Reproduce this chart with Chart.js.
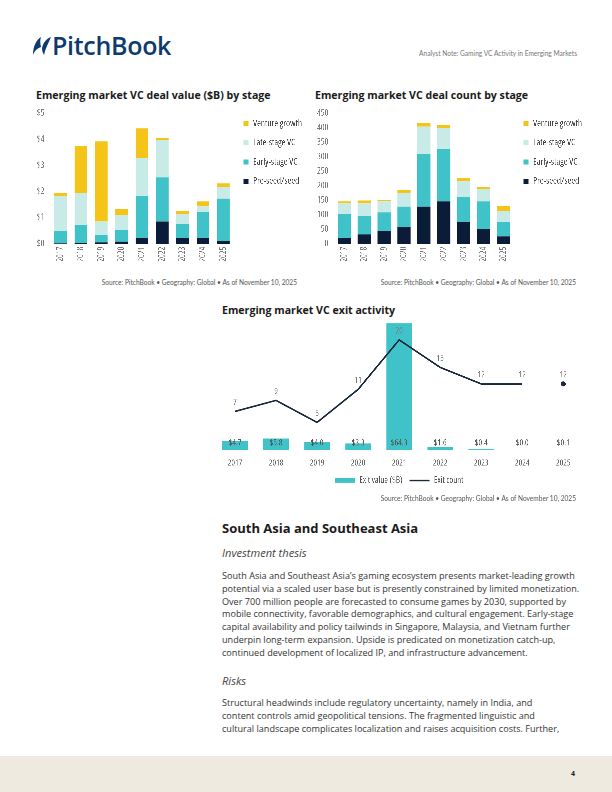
<!DOCTYPE html>
<html>
<head>
<meta charset="utf-8">
<script src="https://cdn.jsdelivr.net/npm/chart.js@4.4.1/dist/chart.umd.min.js"></script>
<style>
  html, body { margin: 0; padding: 0; }
  body { width: 612px; height: 792px; position: relative; overflow: hidden; background: #fff; font-family: 'Open Sans', sans-serif; color: #333; }
  .abs { position: absolute; white-space: nowrap; }
  .title { font-weight: 700; font-size: 10.6px; color: #1a1a1a; line-height: 14px; }
  .src { font-family: Lato, sans-serif; font-size: 6.6px; color: #555; line-height: 9px; text-align: right; }
  .body { font-size: 9.1px; line-height: 12.8px; color: #333; }
  .sub { font-style: italic; font-size: 11.1px; color: #444; line-height: 14px; }
  canvas { position: absolute; }
</style>
</head>
<body>

<!-- header -->
<svg class="abs" style="left:32px;top:36px" width="20" height="20" viewBox="0 0 20 20">
  <path d="M9 1 C4 4 1 11 1 19 C3 14 6 12 9 11 C8 7 8 4 9 1 Z" fill="#0E3A6D"/>
  <path d="M19 1 C14 3 11 7 10 12 C10 15 11 17 12 19 C13 13 16 8 19 1 Z" fill="#0E3A6D"/>
</svg>
<div class="abs" style="left:52px;top:29px;font-size:25px;font-weight:600;color:#0E3A6D;line-height:32px;letter-spacing:-0.3px">PitchBook</div>
<div class="abs" style="right:35px;top:49px;font-family:Lato,sans-serif;font-size:6.6px;color:#777;line-height:9px">Analyst Note: Gaming VC Activity in Emerging Markets</div>

<!-- chart titles -->
<div class="abs title" style="left:36px;top:88px">Emerging market VC deal value ($B) by stage</div>
<div class="abs title" style="left:315px;top:88px">Emerging market VC deal count by stage</div>

<canvas id="valueChart" width="290" height="173.5" style="left:25px;top:101.5px;width:290px;height:173.5px"></canvas>
<canvas id="countChart" width="290" height="173.5" style="left:305px;top:101.5px;width:290px;height:173.5px"></canvas>

<div class="abs src" style="right:315px;top:278px">Source: PitchBook • Geography: Global • As of November 10, 2025</div>
<div class="abs src" style="right:36px;top:278px">Source: PitchBook • Geography: Global • As of November 10, 2025</div>

<div class="abs title" style="left:222px;top:303px">Emerging market VC exit activity</div>
<canvas id="exitChart" width="380" height="176.5" style="left:210px;top:318px;width:380px;height:176.5px"></canvas>
<div class="abs src" style="right:36px;top:494px">Source: PitchBook • Geography: Global • As of November 10, 2025</div>

<!-- text -->
<div class="abs" style="left:222px;top:519px;font-size:13px;font-weight:700;color:#1a1a1a;line-height:18px">South Asia and Southeast Asia</div>
<div class="abs sub" style="left:222px;top:546px">Investment thesis</div>
<div class="abs body" style="left:222px;top:570px">
South Asia and Southeast Asia’s gaming ecosystem presents market-leading growth<br>
potential via a scaled user base but is presently constrained by limited monetization.<br>
Over 700 million people are forecasted to consume games by 2030, supported by<br>
mobile connectivity, favorable demographics, and cultural engagement. Early-stage<br>
capital availability and policy tailwinds in Singapore, Malaysia, and Vietnam further<br>
underpin long-term expansion. Upside is predicated on monetization catch-up,<br>
continued development of localized IP, and infrastructure advancement.
</div>
<div class="abs sub" style="left:222px;top:674px">Risks</div>
<div class="abs body" style="left:222px;top:697px">
Structural headwinds include regulatory uncertainty, namely in India, and<br>
content controls amid geopolitical tensions. The fragmented linguistic and<br>
cultural landscape complicates localization and raises acquisition costs. Further,
</div>

<!-- footer -->
<div class="abs" style="left:0;top:756px;width:612px;height:36px;background:#EEEAE0"></div>
<div class="abs" style="left:571px;top:769px;font-size:7px;font-weight:700;color:#222;line-height:10px">4</div>

<script>
'use strict';

const years = ['2017', '2018', '2019', '2020', '2021', '2022', '2023', '2024', '2025'];
const stageNames = ['Pre-seed/seed', 'Early-stage VC', 'Late-stage VC', 'Venture growth'];

// deal value ($B)
const valueSeed   = [0.01, 0.04, 0.05, 0.08, 0.23, 0.85, 0.23, 0.23, 0.11];
const valueEarly  = [0.48, 0.67, 0.28, 0.44, 1.60, 1.69, 0.53, 0.99, 1.62];
const valueLate   = [1.34, 1.24, 0.52, 0.57, 1.46, 1.44, 0.39, 0.21, 0.43];
const valueGrowth = [0.12, 1.79, 3.07, 0.23, 1.13, 0.08, 0.09, 0.19, 0.15];

// deal count
const countSeed   = [19, 32, 43, 57, 128, 146, 74, 50, 25];
const countEarly  = [83, 63, 65, 71, 181, 180, 88, 96, 49];
const countLate   = [37, 44, 38, 48, 95, 72, 54, 42, 39];
const countGrowth = [7, 10, 6, 8, 12, 12, 10, 8, 17];

// exits
const exitValue = [4.7, 5.8, 4.0, 3.3, 64.3, 1.6, 0.4, 0.0, 0.1];
const exitCount = [7, 9, 5, 11, 20, 15, 12, 12, 12];

const C = { seed: '#0B1C38', early: '#40C2C9', late: '#C8EBE8', growth: '#F4C518', navy: '#1A2940' };
const CHART_FONT = "'Open Sans', sans-serif";
const STRETCH = 'condensed';

Chart.defaults.font.family = CHART_FONT;
Chart.defaults.font.weight = STRETCH; // goes into the font shorthand before the size
Chart.defaults.font.size = 8.8;
Chart.defaults.color = '#777';
Chart.defaults.animation = false;
Chart.defaults.devicePixelRatio = 3;

const el = (id) => document.getElementById(id);
const noGrid = { display: false, drawTicks: false };

// widen the legend clip box after layout so the last glyph is not cut
const legendRoom = {
    id: 'legendRoom',
    beforeDraw(chart) {
        const l = chart.legend;
        if (l) l.right = chart.width;
    }
};

function stackedChart(id, series, yOpts, axisW, barPct, padRight) {
    const colors = [C.seed, C.early, C.late, C.growth];
    return new Chart(el(id), {
        type: 'bar',
        data: {
            labels: years,
            datasets: series.map((d, i) => ({
                label: stageNames[i],
                data: d,
                backgroundColor: colors[i],
                borderWidth: 0,
                barPercentage: barPct,
                categoryPercentage: 1
            }))
        },
        options: {
            responsive: false,
            layout: { padding: { top: 7, right: padRight, bottom: 0, left: 0 } },
            plugins: {
                tooltip: { enabled: false },
                legend: {
                    position: 'right',
                    align: 'start',
                    reverse: true,
                    labels: { boxWidth: 5, boxHeight: 5, padding: 10, color: '#444', font: { size: 9.2 } }
                }
            },
            scales: {
                x: {
                    stacked: true,
                    grid: noGrid,
                    border: { display: false },
                    ticks: { minRotation: 90, maxRotation: 90, padding: 3, color: '#777' },
                    afterFit: s => { s.height = 31.3; }
                },
                y: Object.assign({
                    stacked: true,
                    min: 0,
                    grid: noGrid,
                    border: { display: false },
                    afterFit: s => { s.width = axisW; }
                }, yOpts)
            }
        },
        plugins: [legendRoom]
    });
}

stackedChart('valueChart', [valueSeed, valueEarly, valueLate, valueGrowth], {
    max: 5,
    ticks: { stepSize: 1, padding: 6, color: '#777', callback: v => '$' + v }
}, 25.4, 0.62, 12);

stackedChart('countChart', [countSeed, countEarly, countLate, countGrowth], {
    max: 450,
    ticks: { stepSize: 50, padding: 6, color: '#777' }
}, 29.3, 0.66, 12);

// labels on the exit chart
const exitLabels = {
    id: 'exitLabels',
    afterDatasetsDraw(chart) {
        const ctx = chart.ctx;
        const base = chart.scales.y.getPixelForValue(0);
        ctx.save();
        ctx.font = STRETCH + ' 8.6px ' + CHART_FONT;
        ctx.textAlign = 'center';
        ctx.textBaseline = 'middle';
        ctx.fillStyle = '#555';
        chart.getDatasetMeta(0).data.forEach((b, i) => {
            ctx.fillText('$' + exitValue[i].toFixed(1), b.x, base - 7);
        });
        ctx.fillStyle = '#777';
        chart.getDatasetMeta(1).data.forEach((p, i) => {
            ctx.fillText(String(exitCount[i]), p.x, p.y - 9);
        });
        ctx.restore();
    }
};

new Chart(el('exitChart'), {
    data: {
        labels: years,
        datasets: [{
            type: 'bar',
            label: 'Exit value ($B)',
            data: exitValue,
            backgroundColor: C.early,
            borderWidth: 0,
            barPercentage: 0.62,
            categoryPercentage: 1,
            yAxisID: 'y',
            order: 1
        }, {
            type: 'line',
            label: 'Exit count',
            data: exitCount,
            borderColor: C.navy,
            backgroundColor: C.navy,
            borderWidth: 1.6,
            tension: 0,
            pointRadius: c => c.dataIndex === years.length - 1 ? 2.5 : 0,
            pointBorderWidth: 0,
            segment: { borderColor: c => c.p1DataIndex === years.length - 1 ? 'rgba(0,0,0,0)' : C.navy },
            yAxisID: 'y1',
            order: 0
        }]
    },
    options: {
        responsive: false,
        layout: { padding: { top: 5.3, right: 6.2, bottom: 0, left: 4.5 } },
        plugins: {
            tooltip: { enabled: false },
            legend: {
                position: 'bottom',
                labels: {
                    usePointStyle: true,
                    pointStyleWidth: 20,
                    boxHeight: 4.5,
                    padding: 7,
                    color: '#555',
                    font: { size: 8.8 },
                    sort: (a, b) => a.datasetIndex - b.datasetIndex,
                    generateLabels: chart => Chart.defaults.plugins.legend.labels.generateLabels(chart)
                        .map(it => it.datasetIndex === 0
                            ? Object.assign(it, { pointStyle: 'rect', lineWidth: 0 })
                            : Object.assign(it, { pointStyle: 'line', lineWidth: 1.6, strokeStyle: C.navy }))
                }
            }
        },
        scales: {
            x: {
                grid: noGrid,
                border: { display: false },
                ticks: { padding: 8, color: '#666', font: { size: 8.6 } },
                afterFit: s => { s.height = 19; }
            },
            y: { display: false, min: 0, max: 64.3 },
            y1: { display: false, min: 0, max: 23 }
        }
    },
    plugins: [exitLabels]
});
</script>
</body>
</html>
